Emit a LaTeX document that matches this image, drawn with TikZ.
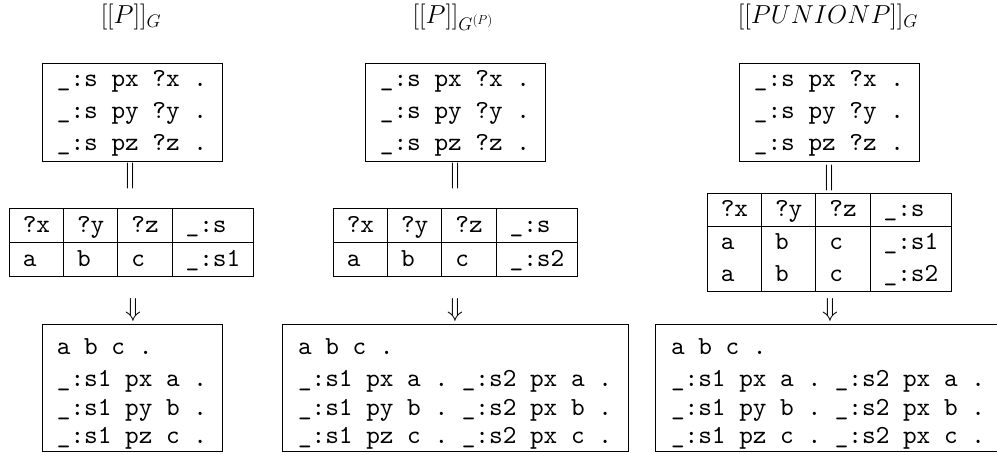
\RequirePackage{fix-cm}
\documentclass[tikz,border=0pt]{standalone}
\usepackage{fontspec}
\setmonofont{lmmono10-regular}[Extension=.otf]
\usepackage{tikz}
\usetikzlibrary{positioning}
\setlength{\tabcolsep}{13.5pt}
\setlength{\arrayrulewidth}{1pt}

\tikzset{
  pat/.style={draw, line width=1pt, inner sep=0pt, align=left, minimum width=180pt, minimum height=98pt,
    font=\fontsize{26}{32}\selectfont\ttfamily},
  res/.style={pat, minimum height=127pt, font=\fontsize{26}{28.5}\selectfont\ttfamily},
  tbl/.style={inner sep=0pt, font=\fontsize{26}{33}\selectfont\ttfamily},
  ttl/.style={anchor=base, font=\fontsize{26}{31}\selectfont},
  sym/.style={inner sep=0pt, font=\fontsize{26}{31}\selectfont},
}

\begin{document}
\begin{tikzpicture}[x=1pt, y=-1pt]
  \useasboundingbox (0,0) rectangle (997,454);

  % Titles
  \node[ttl] (t1) at (131,24) {$[[P]]_G$};
  \node[ttl] (t2) at (453,24) {$[[P]]_{G^{(P)}}$};
  \node[ttl] (t3) at (828,24) {$[[P UNION P]]_G$};

  % Patterns
  \node[pat] (p1) at (132,113) {\_:s px ?x .\\\_:s py ?y .\\\_:s pz ?z .};
  \node[pat] (p2) at (455,113) {\_:s px ?x .\\\_:s py ?y .\\\_:s pz ?z .};
  \node[pat] (p3) at (829,113) {\_:s px ?x .\\\_:s py ?y .\\\_:s pz ?z .};

  % Equal signs
  \node[sym] (e1) at (130,176) {$\|$};
  \node[sym] (e2) at (455,176) {$\|$};
  \node[sym] (e3) at (829,178) {$\|$};

  % Solution tables
  \node[tbl] (m1) at (131.5,242.5) {\begin{tabular}{|l|l|l|l|}
    \hline ?x & ?y & ?z & \_:s \\
    \hline a & b & c & \_:s1 \\
    \hline
  \end{tabular}};
  \node[tbl] (m2) at (455.5,242.5) {\begin{tabular}{|l|l|l|l|}
    \hline ?x & ?y & ?z & \_:s \\
    \hline a & b & c & \_:s2 \\
    \hline
  \end{tabular}};
  \node[tbl, font=\fontsize{26}{32}\selectfont\ttfamily] (m3) at (829.5,243) {\begin{tabular}{|l|l|l|l|}
    \hline ?x & ?y & ?z & \_:s \\
    \hline a & b & c & \_:s1 \\
    a & b & c & \_:s2 \\
    \hline
  \end{tabular}};

  % Implies
  \node[sym] (i1) at (133,310) {$\Downarrow$};
  \node[sym] (i2) at (455,310) {$\Downarrow$};
  \node[sym] (i3) at (830,310) {$\Downarrow$};

  % Results
  \node[res] (r1) at (132,388.5)
    {\rule{0pt}{27pt}a b c .\\[3.5pt]\_:s1 px a .\\\_:s1 py b .\\\_:s1 pz c .};
  \node[res, minimum width=346pt] (r2) at (455,388.5)
    {\rule{0pt}{27pt}a b c .\\[3.5pt]\_:s1 px a . \_:s2 px a .\\\_:s1 py b . \_:s2 px b .\\\_:s1 pz c . \_:s2 px c .};
  \node[res, minimum width=346pt] (r3) at (828,388.5)
    {\rule{0pt}{27pt}a b c .\\[3.5pt]\_:s1 px a . \_:s2 px a .\\\_:s1 py b . \_:s2 px b .\\\_:s1 pz c . \_:s2 px c .};
\end{tikzpicture}
\end{document}
